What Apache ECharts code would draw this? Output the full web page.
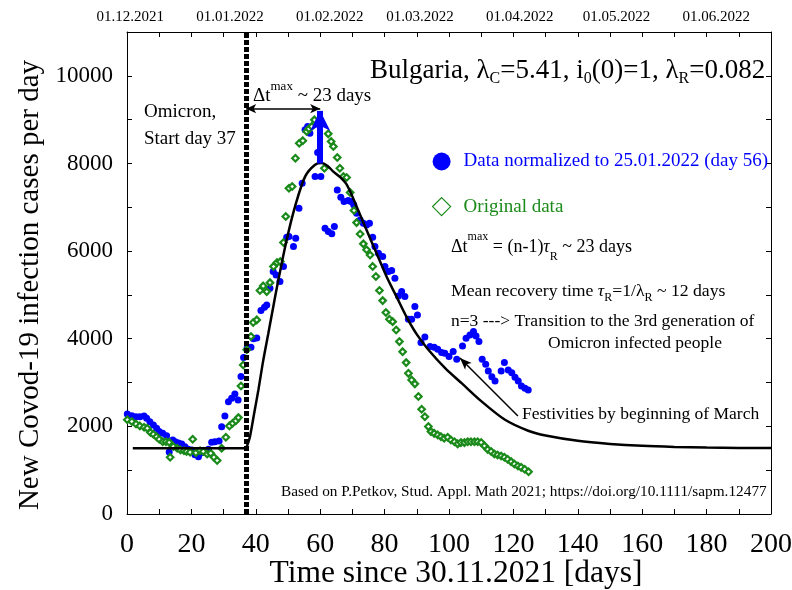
<!DOCTYPE html>
<html><head><meta charset="utf-8">
<script src="https://cdn.jsdelivr.net/npm/echarts@6/dist/echarts.min.js"></script>
<style>html,body{margin:0;padding:0;background:#fff}#c{width:792px;height:590px}</style>
</head><body><div id="c"></div>
<script>
// ---------- data ----------
const blueNormalized = [
 [0.1,2283],[1.5,2245],[2.8,2222],[4.0,2222],[5.3,2237],[6.1,2185],[7.1,2108],[8.2,2032],[9.2,1956],[10.0,1880],
 [11.1,1842],[12.3,1788],[13.1,1415],[14.2,1690],[15.0,1651],[16.0,1620],[17.0,1598],[18.0,1537],[19.0,1477],[20.1,1461],
 [21.1,1355],[22.2,1309],[23.2,1400],[24.3,1423],[25.3,1477],[26.3,1640],[27.3,1650],[28.6,1665],[29.4,1994],[30.4,2237],
 [31.5,2564],[32.5,2641],[33.5,2740],[34.5,2600],[35.4,3140],[36.2,3573],[37.3,3780],[38.5,3805],[39.3,4000],[40.3,4018],
 [41.6,4642],[42.7,4718],[43.4,4772],[44.4,5152],[45.4,5533],[46.3,5457],[47.5,5304],[48.6,5647],[49.6,6317],[50.3,6332],
 [51.7,6103],[52.4,6294],[53.4,6979],[54.4,7550],[55.3,8767],[56.1,8843],[56.8,8691],[58.4,7702],[59.2,8249],[60.2,7702],
 [61.5,6523],[62.5,6446],[63.6,6393],[64.4,6560],[65.3,7397],[66.4,7230],[67.4,7131],[68.7,7153],[69.5,7131],[70.4,7055],
 [71.3,6865],[72.4,6712],[73.4,6636],[74.4,6598],[75.3,6636],[76.3,6317],[77.0,6103],[78.1,5951],[79.4,5875],[80.1,5647],
 [81.2,5533],[82.2,5556],[83.2,5381],[84.3,4977],[85.3,5076],[86.3,4962],[87.4,4445],[88.4,4445],[89.4,4734],[90.2,4543],
 [91.3,3912],[92.5,4040],[94.1,3820],[95.4,3805],[96.5,3760],[97.7,3683],[98.7,3668],[100.0,3592],[101.3,3706],[102.4,3531],
 [104.2,3836],[105.3,4011],[106.5,4087],[107.6,4163],[108.4,4064],[109.3,3934],[110.3,3531],[111.4,3418],[112.2,3265],[113.3,3135],
 [114.3,3037],[116.2,3265],[117.2,3455],[118.4,3288],[119.5,3226],[120.5,3120],[121.5,3037],[122.5,2922],[123.6,2870],[124.6,2831]
];
const greenOriginal = [
 [0.1,2150],[1.5,2110],[2.8,2055],[4.0,2010],[5.3,1980],[6.3,1955],[7.3,1860],[8.2,1820],[9.2,1765],[10.0,1705],
 [11.1,1650],[12.1,1650],[13.1,1635],[13.4,1295],[14.4,1540],[15.6,1500],[16.6,1460],[17.7,1445],[18.5,1425],[19.6,1410],
 [20.4,1705],[21.4,1400],[22.7,1445],[23.7,1425],[24.9,1370],[26.0,1385],[27.0,1295],[28.0,1220],[29.4,1500],[30.7,1750],
 [31.8,2010],[32.8,2070],[33.8,2130],[34.6,2200],[35.4,2920],[36.1,3400],[37.2,3750],[38.5,4050],[39.2,4370],[40.3,4430],
 [41.3,5100],[42.3,5205],[43.4,5075],[44.4,5280],[45.5,5650],[46.6,5740],[47.6,5760],[48.6,6195],[49.3,6790],[50.3,7435],
 [51.3,7475],[52.3,8120],[53.5,8460],[54.6,8520],[55.8,8730],[56.5,8790],[57.4,8845],[58.2,8995],[61.3,7890],[62.5,8676],
 [63.4,8500],[64.1,8386],[65.3,8135],[66.1,7892],[67.2,7702],[68.2,7679],[69.3,7336],[70.5,6925],[71.3,6650],[72.4,6390],
 [73.4,6165],[74.4,6030],[75.5,5910],[76.3,5650],[77.3,5420],[78.4,5100],[79.4,4870],[80.4,4600],[81.5,4445],[82.5,4390],
 [83.6,4200],[84.6,3935],[85.6,3705],[86.7,3455],[87.4,3210],[88.4,3060],[89.4,2970],[90.5,2680],[91.5,2390],[92.5,2220],
 [93.6,1995],[94.4,1880],[95.4,1840],[96.5,1805],[97.5,1765],[98.5,1730],[99.6,1750],[100.6,1690],[101.7,1650],[102.7,1600],
 [103.7,1630],[104.8,1630],[105.8,1650],[106.8,1650],[107.9,1650],[108.9,1650],[110.0,1630],[111.0,1555],[112.0,1475],[113.1,1425],
 [114.1,1370],[115.1,1345],[116.2,1325],[117.2,1295],[118.2,1250],[119.3,1195],[120.3,1140],[121.4,1095],[122.4,1065],[123.5,1020],
 [124.7,965]
];
const modelBaseline = [[1.8,1500],[37,1500]];
const modelPeak = [
 [37,1500],[37.5,1600],[38.2,1770],[39.5,2300],[40.8,2830],[42.3,3500],[43.9,4125],[45.5,4760],[47,5340],[49.6,6260],
 [52.2,7020],[55.3,7700],[58.4,7970],[60.4,8010],[62.2,7950],[64,7820],[66,7700],[68.2,7520],[71.3,7020],[74.4,6480],
 [77.5,5950],[80.6,5420],[83.7,4960],[86.8,4500],[90,4100],[93.6,3750],[98.8,3330],[104,2980],[110.1,2570],[117.4,2150],
 [124.6,1900],[130,1790],[140,1670],[150,1600],[160,1555],[170,1530],[180,1515],[190,1508],[200,1505]
];
const omicronStartDay = 37;
const deltaArrow = [[37,9250],[60,9250]];
const peakArrow = [[60,8000],[60,9200]];
const festivitiesArrow = [[121.4,2237],[103.4,3562]];
const topTickDays = [1,32,63,91,122,152,183];
const topTickLabels = ['01.12.2021','01.01.2022','01.02.2022','01.03.2022','01.04.2022','01.05.2022','01.06.2022'];

// ---------- chart ----------
const FONT = '"Liberation Serif","Times New Roman",serif';
const BLACK = '#000', BLUE = '#0000ff', GREEN = '#1a8a1a';
const chart = echarts.init(document.getElementById('c'), null, {renderer:'canvas', width:792, height:590});

function st(size, extra){ return Object.assign({fontFamily:FONT, fontSize:size, lineHeight:size+6}, extra||{}); }
function txt(left, top, text, rich, fill){
  return {type:'text', left:left, top:top, z:100, silent:true,
    style:{text:text, rich:rich, fill:fill||BLACK, fontFamily:FONT, fontSize:18}};
}

const axisLineStyle = {show:true, onZero:false, lineStyle:{color:BLACK, width:1}};
const option = {
  animation:false,
  backgroundColor:'#fff',
  textStyle:{fontFamily:FONT},
  grid:{left:127, right:21, top:32, bottom:76, containLabel:false, outerBoundsMode:'none'},
  xAxis:[
    {type:'value', min:0, max:200, interval:10, position:'bottom',
     name:'Time since 30.11.2021 [days]', nameLocation:'middle', nameGap:44, nameMoveOverlap:false,
     nameTextStyle:{fontFamily:FONT, fontSize:31.5, color:BLACK, padding:[0,0,0,14]},
     axisLine:axisLineStyle,
     axisTick:{show:true, inside:true, length:5, lineStyle:{color:BLACK}},
     axisLabel:{fontFamily:FONT, fontSize:28, color:BLACK, margin:17,
       formatter:function(v){return v%20===0?String(v):'';}},
     splitLine:{show:false}},
    {type:'value', min:0, max:200, interval:10, position:'top',
     axisLine:axisLineStyle,
     axisTick:{show:true, inside:true, length:5, lineStyle:{color:BLACK}},
     axisLabel:{customValues:topTickDays, fontFamily:FONT, fontSize:15, color:BLACK, margin:7,
       formatter:function(v){var i=topTickDays.indexOf(v);return i>=0?topTickLabels[i]:'';}},
     splitLine:{show:false}}
  ],
  yAxis:[
    {type:'value', min:0, max:11000, interval:1000, position:'left',
     name:'New Covod-19 infection cases per day', nameLocation:'middle', nameGap:82, nameMoveOverlap:false,
     nameTextStyle:{fontFamily:FONT, fontSize:29, color:BLACK, padding:[0,24,0,0]},
     axisLine:axisLineStyle,
     axisTick:{show:true, inside:true, length:5, lineStyle:{color:BLACK}},
     axisLabel:{fontFamily:FONT, fontSize:23, color:BLACK, margin:14,
       formatter:function(v){return v%2000===0?String(v):'';}},
     splitLine:{show:false}},
    {type:'value', min:0, max:11000, interval:1000, position:'right',
     axisLine:axisLineStyle,
     axisTick:{show:true, inside:true, length:5, lineStyle:{color:BLACK}},
     axisLabel:{show:false}, splitLine:{show:false}}
  ],
  legend:{
    orient:'vertical', left:432, top:152, padding:0, itemWidth:18, itemHeight:18, itemGap:26,
    textStyle:{fontFamily:FONT, fontSize:19, padding:[0,0,0,8]},
    data:[
      {name:'Data normalized to 25.01.2022 (day 56)', icon:'circle', itemStyle:{color:BLUE, opacity:1}, textStyle:{color:BLUE}},
      {name:'Original data', icon:'diamond', itemStyle:{color:'#fff', borderColor:GREEN, borderWidth:1.2, opacity:1}, textStyle:{color:GREEN}}
    ]
  },
  series:[
    {name:'Data normalized to 25.01.2022 (day 56)', type:'scatter', data:blueNormalized,
     symbol:'circle', symbolSize:7, itemStyle:{color:BLUE, opacity:1}, z:2},
    {name:'Original data', type:'scatter', data:greenOriginal,
     symbol:'diamond', symbolSize:6.5, itemStyle:{color:'#fff', borderColor:GREEN, borderWidth:2.2, opacity:1}, z:3},
    {name:'model0', type:'line', data:modelBaseline, symbol:'none', smooth:false,
     lineStyle:{color:BLACK, width:2.5}, z:4},
    {name:'model', type:'line', data:modelPeak, symbol:'none', smooth:0.3,
     lineStyle:{color:BLACK, width:2.5}, z:4,
     markLine:{silent:true, symbol:'none', animation:false, label:{show:false}, z:10,
       lineStyle:{type:'solid', color:BLACK, width:1.5},
       emphasis:{disabled:true},
       data:[
         {xAxis:omicronStartDay, lineStyle:{color:BLACK, width:5, type:[5,2]}},
         [{coord:deltaArrow[0], symbol:'arrow', symbolSize:[7,10]},
          {coord:deltaArrow[1], symbol:'arrow', symbolSize:[7,10], lineStyle:{color:BLACK, width:1.5, type:'solid'}}],
         [{coord:peakArrow[0], symbol:'none'},
          {coord:peakArrow[1], symbol:'arrow', symbolSize:[15,20], lineStyle:{color:BLUE, width:6, type:'solid'}}],
         [{coord:festivitiesArrow[0], symbol:'none'},
          {coord:festivitiesArrow[1], symbol:'arrow', symbolSize:[7,12], lineStyle:{color:BLACK, width:1.5, type:'solid'}}]
       ]}}
  ],
  graphic:[
    txt(370, 57, '{b|Bulgaria, λ}{s|C}{b|=5.41, i}{s|0}{b|(0)=1, λ}{s|R}{b|=0.082}',
      {b:st(27,{lineHeight:32}), s:st(16,{lineHeight:15, verticalAlign:'bottom'})}),
    txt(144, 103, '{b|Omicron,}', {b:st(19,{lineHeight:24})}),
    txt(144, 130, '{b|Start day 37}', {b:st(19,{lineHeight:24})}),
    txt(253, 80, '{b|Δt}{p|max}{b| ~ 23 days}',
      {b:st(19,{lineHeight:32}), p:st(13,{lineHeight:13, verticalAlign:'top'})}),
    txt(451, 231, '{b|Δt}{p|max}{b| = (n-1)}{i|τ}{s|R}{b| ~ 23 days}',
      {b:st(18,{lineHeight:32}), p:st(12,{lineHeight:12, verticalAlign:'top'}),
       i:st(18,{lineHeight:32, fontStyle:'italic'}), s:st(12,{lineHeight:20, verticalAlign:'bottom'})}),
    txt(451, 282, '{b|Mean recovery time }{i|τ}{s|R}{b|=1/λ}{s|R}{b| ~ 12 days}',
      {b:st(17.7,{lineHeight:26}), i:st(17.7,{lineHeight:26, fontStyle:'italic'}),
       s:st(12,{lineHeight:14, verticalAlign:'bottom'})}),
    txt(451, 312, '{b|n=3 ---> Transition to the 3rd generation of}', {b:st(17.5,{lineHeight:24})}),
    txt(548, 334, '{b|Omicron infected people}', {b:st(17.5,{lineHeight:24})}),
    txt(522, 405, '{b|Festivities by beginning of March}', {b:st(17.5,{lineHeight:24})}),
    txt(281, 484, '{b|Based on P.Petkov, Stud. Appl. Math 2021; https://doi.org/10.1111/sapm.12477}', {b:st(15.3,{lineHeight:20})})
  ]
};
chart.setOption(option);
</script>
</body></html>
